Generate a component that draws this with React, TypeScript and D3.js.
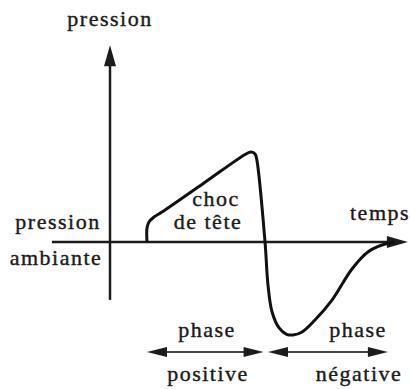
import React from 'react'
import * as d3 from 'd3'

const W = 410
const H = 389

// onde de choc : temps (unités arbitraires) et surpression relative
const temps = [1.0, 1.0, 1.054, 1.19, 1.405, 2.54, 3.676, 3.81, 3.92, 3.97, 4.19, 4.27, 4.38, 4.57, 4.76, 4.95, 5.19, 5.54, 6.0, 6.54, 6.97, 7.35, 7.7]
const pression = [0, 0.157, 0.225, 0.281, 0.337, 0.663, 0.989, 1.01, 0.989, 0.92, 0, -0.483, -0.787, -0.966, -1.034, -1.045, -1.011, -0.876, -0.652, -0.303, -0.112, -0.034, 0]

// étendue des axes
const axeTemps = [-1.57, 8.05]
const axePression = [-0.65, 2.21]

// durées des phases
const phases = [
  { debut: 1.0, fin: 4.15, haut: 'phase', bas: 'positive' },
  { debut: 4.27, fin: 7.51, haut: 'phase', bas: 'négative' },
]

const font = 'Liberation Serif, Times New Roman, Times, DejaVu Serif, serif'
const ink = '#1c1c1c'

// pointe de flèche triangulaire, sommet en (x,y), direction (dx,dy)
const tete = (x: number, y: number, dx: number, dy: number, len: number, half: number) => {
  const bx = x - dx * len
  const by = y - dy * len
  return `M${x},${y}L${bx - dy * half},${by + dx * half}L${bx + dy * half},${by - dx * half}Z`
}

export default function App() {
  const x = d3.scaleLinear().domain([0, 8]).range([110, 406])
  const y = d3.scaleLinear().domain([-1, 1]).range([331, 153])

  const points: [number, number][] = temps.map((t, i) => [t, pression[i]])
  const courbe = d3
    .line<[number, number]>()
    .x(d => x(d[0]))
    .y(d => y(d[1]))
    .curve(d3.curveCatmullRom.alpha(0.5))

  const x0 = x(0)
  const y0 = y(0)
  const yTop = y(axePression[1])
  const xEnd = x(axeTemps[1])
  const yFleche = 352
  // centres des libellés de phase (le second est décalé vers la droite)
  const centres = [207, 358]

  const txt = {
    style: { fontFamily: font, fontSize: '22px', letterSpacing: '1.5px' },
    fill: ink,
    stroke: ink,
    strokeWidth: 0.4,
  }

  return (
    <svg width={W} height={H} style={{ position: 'absolute', left: 0, top: 0, background: '#fff' }}>
      {/* axe des pressions */}
      <line x1={x0} x2={x0} y1={y(axePression[0])} y2={yTop + 16} stroke={ink} strokeWidth={2.5} />
      <path d={tete(x0, yTop, 0, -1, 21, 6)} fill={ink} />
      {/* axe des temps */}
      <line x1={x(axeTemps[0])} x2={xEnd - 16} y1={y0} y2={y0} stroke={ink} strokeWidth={2.5} />
      <path d={tete(xEnd, y0, 1, 0, 21, 6)} fill={ink} />

      {/* profil de pression */}
      <path d={courbe(points) ?? ''} fill="none" stroke="#111" strokeWidth={3} strokeLinejoin="round" />

      {/* phases */}
      {phases.map((p, i) => {
        const a = x(p.debut)
        const b = x(p.fin)
        const c = centres[i]
        return (
          <g key={i}>
            <line x1={a + 14} x2={b - 14} y1={yFleche} y2={yFleche} stroke="#444" strokeWidth={2} />
            <path d={tete(a, yFleche, -1, 0, 20, 5)} fill={ink} />
            <path d={tete(b, yFleche, 1, 0, 20, 5)} fill={ink} />
            <text x={c} y={337} textAnchor="middle" {...txt}>{p.haut}</text>
            <text x={c + 1} y={381} textAnchor="middle" {...txt}>{p.bas}</text>
          </g>
        )
      })}

      {/* libellés */}
      <text x={110} y={26} textAnchor="middle" {...txt}>pression</text>
      <text x={58} y={229} textAnchor="middle" {...txt}>pression</text>
      <text x={56} y={265} textAnchor="middle" {...txt}>ambiante</text>
      <text x={216} y={206} textAnchor="middle" {...txt}>choc</text>
      <text x={208} y={229} textAnchor="middle" {...txt}>de tête</text>
      <text x={350} y={220} textAnchor="start" {...txt}>temps</text>
    </svg>
  )
}
